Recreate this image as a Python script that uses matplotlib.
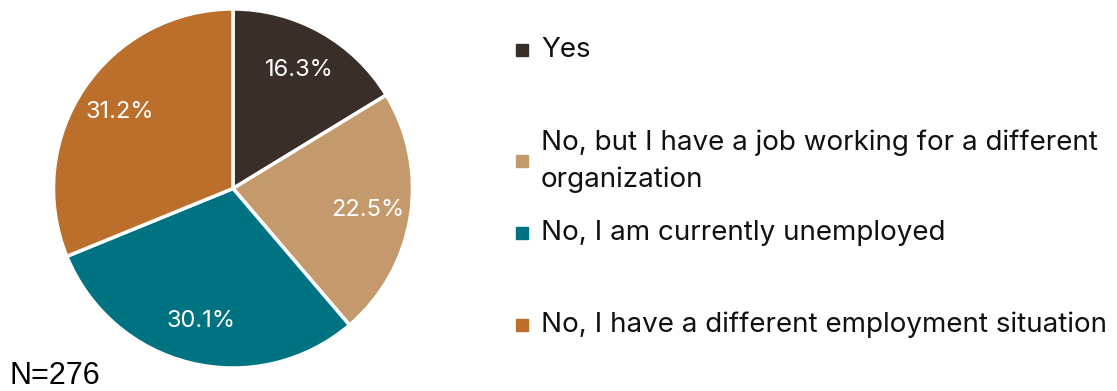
import matplotlib.pyplot as plt
from matplotlib.patches import Rectangle

# Datos de la encuesta
categorias = ["Yes",
              "No, but I have a job working for a different\norganization",
              "No, I am currently unemployed",
              "No, I have a different employment situation"]
porcentajes = [16.3, 22.5, 30.1, 31.2]
colores = ["#3a2e29", "#c49a6c", "#007382", "#bb6f2a"]
legend_y = [50, 161, 233, 325]   # posicion vertical (pixeles) de cada entrada
n_total = 276

W, H = 1117, 391
fig = plt.figure(figsize=(W / 100, H / 100), dpi=100)

# Pastel centrado en (233, 188) px con radio ~179 px
cx, cy, r = 233, 188.5, 179.5
ax = fig.add_axes([(cx - r) / W, (H - cy - r) / H, 2 * r / W, 2 * r / H])
wedges, texts, autotexts = ax.pie(
    porcentajes, colors=colores, startangle=90, counterclock=False,
    autopct="%1.1f%%", pctdistance=0.76, radius=1.0,
    wedgeprops=dict(edgecolor="white", linewidth=2.5),
    textprops=dict(color="white", fontsize=17, family="Inter"))
ax.set_xlim(-1, 1)
ax.set_ylim(-1, 1)
ax.set_aspect("equal")

# Leyenda manual
for cat, col, y in zip(categorias, colores, legend_y):
    fig.add_artist(Rectangle((516 / W, (H - y - 6) / H), 12 / W, 12 / H,
                             transform=fig.transFigure, color=col))
    fig.text(541 / W, (H - y) / H, cat, fontsize=20, family="Inter",
             va="center", ha="left", color="#111111", linespacing=1.5)

fig.text(10 / W, (H - 376) / H, "N=%d" % n_total, fontsize=22,
         family="Liberation Sans", va="center", ha="left")

fig.savefig("out.png", dpi=100)
